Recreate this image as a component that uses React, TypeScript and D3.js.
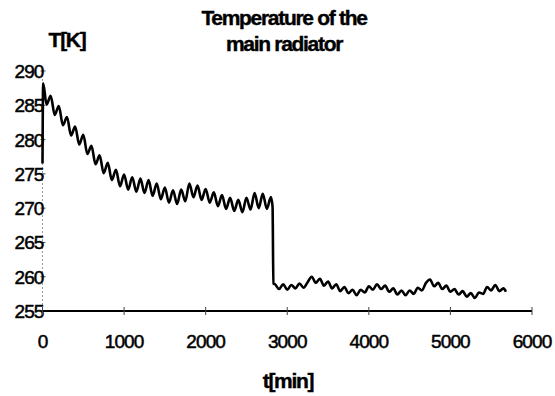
import * as d3 from 'd3';

// time [min] and temperature [K]
const timeMin = [
  0, 8, 50, 100, 150, 200, 250, 300, 350, 400, 450, 500, 550, 600, 650, 700, 750, 800, 850, 900,
  950, 1000, 1050, 1100, 1150, 1200, 1250, 1300, 1350, 1400, 1450, 1500, 1550, 1600, 1650, 1700,
  1750, 1800, 1850, 1900, 1950, 2000, 2050, 2100, 2150, 2200, 2250, 2300, 2350, 2400, 2450, 2500,
  2550, 2600, 2650, 2700, 2750, 2800, 2820, 2830, 2850, 2900, 2950, 3000, 3050, 3100, 3150, 3200,
  3250, 3300, 3350, 3400, 3450, 3500, 3550, 3600, 3650, 3700, 3750, 3800, 3850, 3900, 3950, 4000,
  4050, 4100, 4150, 4200, 4250, 4300, 4350, 4400, 4450, 4500, 4550, 4600, 4650, 4700, 4750, 4800,
  4850, 4900, 4950, 5000, 5050, 5100, 5150, 5200, 5250, 5300, 5350, 5400, 5450, 5500, 5550, 5600,
  5650, 5680,
];

const tempK = [
  276.5, 288.2, 285.1, 286.4, 283.6, 284.9, 282.1, 283.3, 280.6, 281.9, 279.3, 280.7, 277.9, 279.1,
  276.4, 277.7, 275.1, 276.6, 274.1, 275.6, 273.2, 274.9, 272.7, 274.5, 272.4, 274.3, 272.2, 274.1,
  271.8, 273.6, 271.3, 273.0, 270.8, 272.6, 270.6, 272.7, 271.0, 273.6, 271.6, 273.3, 271.2, 272.8,
  270.8, 272.3, 270.3, 271.9, 269.9, 271.5, 269.6, 271.2, 269.4, 271.5, 269.8, 272.2, 270.0, 272.1,
  269.9, 271.6, 270.2, 259.0, 258.9, 258.2, 258.9, 258.1, 258.8, 258.3, 259.0, 258.4, 259.2, 260.0,
  259.1, 259.7, 258.7, 259.3, 258.3, 258.9, 257.9, 258.5, 257.6, 258.1, 257.3, 258.1, 257.7, 258.6,
  258.1, 258.9, 258.2, 258.7, 257.8, 258.3, 257.4, 258.0, 257.3, 258.0, 257.5, 258.4, 258.0, 259.1,
  259.6, 258.6, 259.1, 258.2, 258.7, 257.8, 258.2, 257.4, 257.9, 257.1, 257.6, 256.9, 257.7, 257.5,
  258.5, 258.0, 258.8, 257.9, 258.3, 257.8,
];

const xTicks = [0, 1000, 2000, 3000, 4000, 5000, 6000];
const yTicks = [255, 260, 265, 270, 275, 280, 285, 290];

const titleLines = ['Temperature of the', 'main radiator'];
const yTitle = 'T[K]';
const xTitle = 't[min]';

const FONT = '"Liberation Sans", Arial, sans-serif';

export default function App() {
  const width = 555;
  const height = 396;
  const x = d3.scaleLinear().domain([0, 6000]).range([42.5, 532]);
  const y = d3.scaleLinear().domain([255, 290]).range([311, 71]);

  const points: [number, number][] = timeMin.map((t, i) => [t, tempK[i]]);
  const line = d3
    .line<[number, number]>()
    .x((d) => x(d[0]))
    .y((d) => y(d[1]))
    .curve(d3.curveMonotoneX);

  const boldText = { fontSize: 21, fontWeight: 'bold', letterSpacing: -1.3, stroke: '#000', strokeWidth: 0.4 } as const;
  const tickText = { fontSize: 19, letterSpacing: -0.9, stroke: '#000', strokeWidth: 0.5 } as const;

  return (
    <svg
      width={width}
      height={height}
      style={{ position: 'absolute', left: 0, top: 0, background: '#fff' }}
      fontFamily={FONT}
    >
      {/* title */}
      {titleLines.map((s, i) => (
        <text key={s} x={284} y={25 + i * 26} textAnchor="middle" {...boldText}>
          {s}
        </text>
      ))}
      <text x={67} y={47} textAnchor="middle" {...boldText}>
        {yTitle}
      </text>

      {/* y axis: faint dotted line */}
      <line x1={x(0)} x2={x(0)} y1={y(290)} y2={y(255)} stroke="#999" strokeDasharray="2,2" strokeWidth={1} />
      {yTicks.map((v) => (
        <g key={v}>
          <line x1={x(0) - 2} x2={x(0) + 3} y1={y(v)} y2={y(v)} stroke="#555" strokeWidth={1} />
          <text x={x(0) + 1} y={y(v) + 7} textAnchor="end" {...tickText}>
            {v}
          </text>
        </g>
      ))}

      {/* x axis */}
      <line x1={x(0)} x2={x(6000)} y1={y(255)} y2={y(255)} stroke="#000" strokeWidth={2} />
      {xTicks.map((v) => (
        <g key={v}>
          <line x1={x(v)} x2={x(v)} y1={y(255) - 4} y2={y(255) + 4} stroke="#444" strokeWidth={1} />
          <text x={x(v)} y={348} textAnchor="middle" {...tickText}>
            {v}
          </text>
        </g>
      ))}
      <text x={288} y={388} textAnchor="middle" {...boldText}>
        {xTitle}
      </text>

      {/* data */}
      <path d={line(points) ?? ''} fill="none" stroke="#000" strokeWidth={2.6} strokeLinejoin="round" />
    </svg>
  );
}
